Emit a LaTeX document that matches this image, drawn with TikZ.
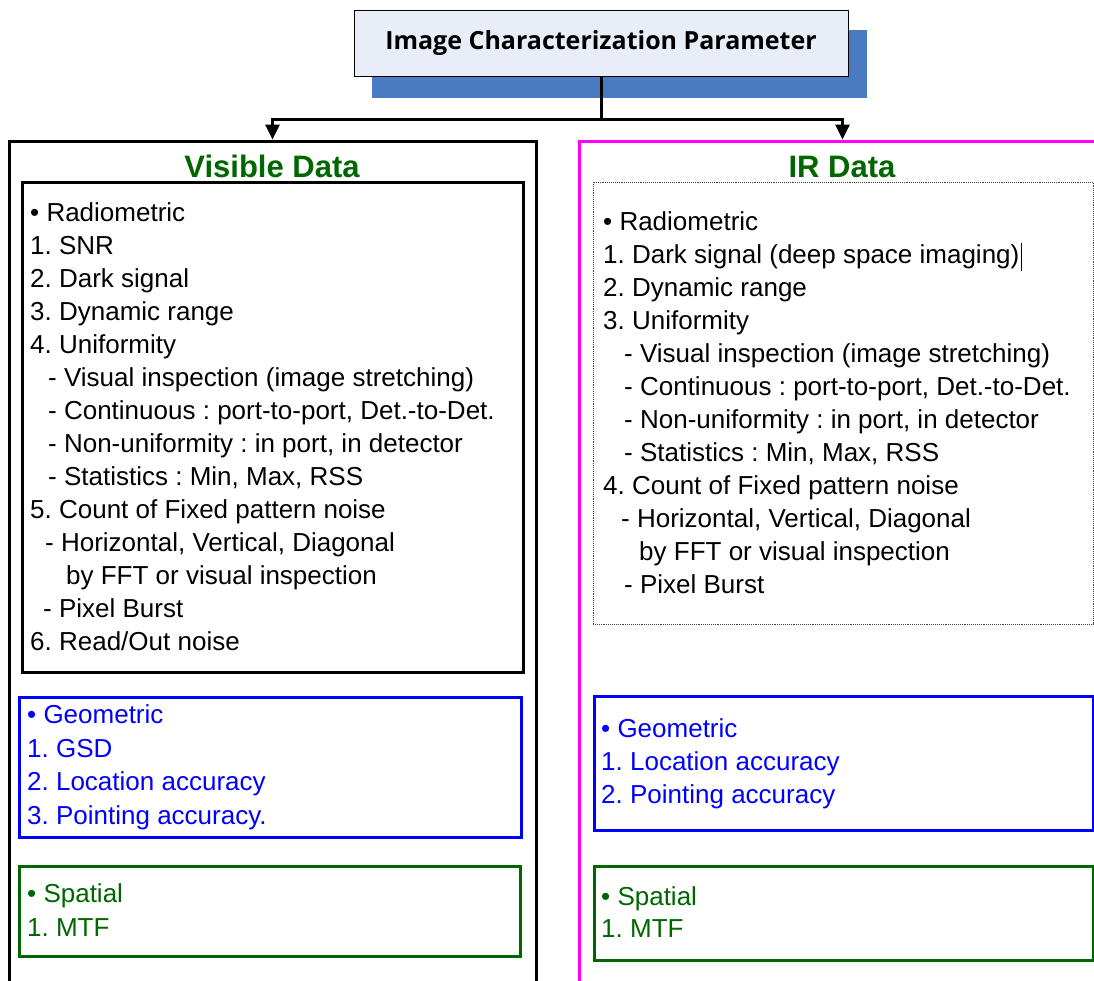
\documentclass[tikz,border=0pt]{standalone}
\usepackage{fontspec}
\setmainfont{Liberation Sans}
\newfontfamily\titlefont{Open Sans}
\usetikzlibrary{arrows.meta, positioning}
\definecolor{shadowblue}{HTML}{4A7BC2}
\definecolor{titlefill}{HTML}{E8EDF7}
\definecolor{datagreen}{HTML}{006600}
\definecolor{irmagenta}{HTML}{FF00FF}
\definecolor{geoblue}{HTML}{0000FF}

\begin{document}
\begin{tikzpicture}[x=1pt, y=-1pt,
		outer/.style={draw, line width=3pt, minimum width=527, minimum height=859},
		inbox/.style={draw, line width=3pt},
		head/.style={text=datagreen, font=\fontsize{31}{36}\selectfont\bfseries, anchor=base, inner sep=0},
		list/.style={anchor=base west, align=left, inner sep=0, font=\fontsize{26}{33}\selectfont\frenchspacing},
		arrow/.style={line width=3pt, -{Triangle[width=14pt,length=15pt]}}
	]
	\clip (0,0) rectangle (1094,980);

	% Title
	\node[fill=shadowblue, minimum width=495, minimum height=68] (shadow) at (619.5,64) {};
	\node[draw, fill=titlefill, line width=1pt, minimum width=494, minimum height=66,
		font=\titlefont\bfseries\fontsize{25}{30}\selectfont] (title) at (601,43) {Image Characterization Parameter};

	% Visible data (text nodes sit on their last baseline)
	\node[outer] (vis) at (272.5,570.5) {};
	\node[head] (vishead) at (272,177) {Visible Data};
	\node[inbox, minimum width=501, minimum height=490] (visrad) at (272.5,427) {};
	\node[list] (visradtxt) at (30,650) {%
		• Radiometric\\
		1. SNR\\
		2. Dark signal\\
		3. Dynamic range\\
		4. Uniformity\\
		\hspace*{18pt}- Visual inspection (image stretching)\\
		\hspace*{18pt}- Continuous : port-to-port, Det.-to-Det.\\
		\hspace*{18pt}- Non-uniformity : in port, in detector\\
		\hspace*{18pt}- Statistics : Min, Max, RSS\\
		5. Count of Fixed pattern noise\\
		\hspace*{15pt}- Horizontal, Vertical, Diagonal\\
		\hspace*{36pt}by FFT or visual inspection\\
		\hspace*{13pt}- Pixel Burst\\
		6. Read/Out noise};
	\node[inbox, draw=geoblue, minimum width=502, minimum height=140] (visgeo) at (270,767) {};
	\node[list, text=geoblue, font=\fontsize{26}{33.5}\selectfont\frenchspacing] (visgeotxt) at (27,824) {%
		• Geometric\\
		1. GSD\\
		2. Location accuracy\\
		3. Pointing accuracy.};
	\node[inbox, draw=datagreen, minimum width=501, minimum height=90] (visspa) at (269.5,911) {};
	\node[list, text=datagreen, font=\fontsize{26}{34}\selectfont\frenchspacing] (visspatxt) at (27,936) {%
		• Spatial\\
		1. MTF};

	% IR data
	\node[outer, draw=irmagenta] (ir) at (842.5,570.5) {};
	\node[head] (irhead) at (842,177) {IR Data};
	\node[draw=black!75, densely dotted, line width=0.9pt, minimum width=500, minimum height=442] (irrad) at (843,403) {};
	\node[list] (irradtxt) at (603,593) {%
		• Radiometric\\
		1. Dark signal (deep space imaging)\hspace{2pt}\rule[-8pt]{0.8pt}{28pt}\\
		2. Dynamic range\\
		3. Uniformity\\
		\hspace*{21pt}- Visual inspection (image stretching)\\
		\hspace*{21pt}- Continuous : port-to-port, Det.-to-Det.\\
		\hspace*{21pt}- Non-uniformity : in port, in detector\\
		\hspace*{21pt}- Statistics : Min, Max, RSS\\
		4. Count of Fixed pattern noise\\
		\hspace*{18pt}- Horizontal, Vertical, Diagonal\\
		\hspace*{36pt}by FFT or visual inspection\\
		\hspace*{21pt}- Pixel Burst};
	\node[inbox, draw=geoblue, minimum width=499, minimum height=134] (irgeo) at (843.5,763) {};
	\node[list, text=geoblue] (irgeotxt) at (601,803) {%
		• Geometric\\
		1. Location accuracy\\
		2. Pointing accuracy};
	\node[inbox, draw=datagreen, minimum width=499, minimum height=94] (irspa) at (843.5,913) {};
	\node[list, text=datagreen, font=\fontsize{26}{32}\selectfont\frenchspacing] (irspatxt) at (601,937) {%
		• Spatial\\
		1. MTF};

	% Connectors
	\coordinate (split) at (601,119);
	\draw[line width=3pt] (title.south) -- (split);
	\draw[arrow] (split) -| (vis.north);
	\draw[arrow] (split) -| (ir.north);
\end{tikzpicture}
\end{document}
